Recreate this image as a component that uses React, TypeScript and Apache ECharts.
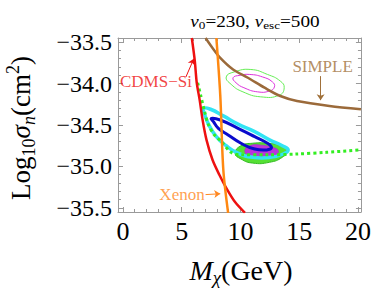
import React, { useEffect, useRef } from "react";
import * as echarts from "echarts";

const X_MIN = -0.42, X_MAX = 20.25, Y_MIN = -35.55, Y_MAX = -33.45;
const X_TICKS = [0, 5, 10, 15, 20];
const X_MINOR = [1, 2, 3, 4, 6, 7, 8, 9, 11, 12, 13, 14, 16, 17, 18, 19];
const Y_TICKS = [-35.5, -35.0, -34.5, -34.0, -33.5];
const Y_MINOR = [-35.4, -35.3, -35.2, -35.1, -34.9, -34.8, -34.7, -34.6, -34.4, -34.3, -34.2, -34.1, -33.9, -33.8, -33.7, -33.6];

// limit curves
const cdmsSi = [[5.86, -33.45], [6.11, -33.72], [6.28, -33.99], [6.53, -34.2], [6.78, -34.44], [7.11, -34.68], [7.62, -34.92], [8.2, -35.1], [8.87, -35.28], [9.54, -35.43], [10.38, -35.56]];
const xenon = [[7.95, -33.45], [8.28, -34.14], [8.54, -35.04], [8.95, -35.56]];
const simple = [[7.03, -33.45], [7.62, -33.57], [8.28, -33.69], [9.37, -33.83], [10.63, -33.93], [12.05, -34.05], [13.39, -34.15], [14.81, -34.21], [17.57, -34.27], [20.25, -34.31]];
const greenDotted = [[6.36, -33.99], [6.61, -34.14], [6.95, -34.34], [7.28, -34.5], [7.78, -34.62], [8.37, -34.7], [9.2, -34.83], [10.04, -34.86], [12.3, -34.86], [14.81, -34.85], [17.32, -34.83], [20.25, -34.8]];

// contours
const upperGreen = [[8.79, -33.92], [9.46, -33.86], [10.88, -33.83], [12.3, -33.89], [13.39, -33.97], [13.72, -34.05], [13.31, -34.14], [11.72, -34.16], [10.21, -34.1], [9.21, -34.01]];
const upperMagenta = [[9.37, -33.93], [9.96, -33.9], [10.79, -33.89], [11.88, -33.92], [12.72, -33.98], [12.89, -34.04], [12.47, -34.09], [11.46, -34.1], [10.29, -34.05], [9.62, -33.99]];
const lowerCyan = [[6.86, -34.3], [7.45, -34.31], [8.54, -34.39], [9.79, -34.49], [11.21, -34.58], [12.47, -34.68], [13.56, -34.75], [14.06, -34.8], [13.64, -34.85], [12.55, -34.89], [11.05, -34.89], [9.79, -34.84], [8.79, -34.75], [7.95, -34.64], [7.28, -34.49], [6.95, -34.37]];
const lowerBlue = [[7.53, -34.42], [8.28, -34.44], [9.79, -34.54], [11.21, -34.64], [12.3, -34.72], [12.64, -34.77], [12.3, -34.8], [11.21, -34.79], [10.04, -34.72], [8.95, -34.62], [8.12, -34.54], [7.7, -34.46]];
const lowerGreen = [[9.54, -34.84], [10.04, -34.75], [11.05, -34.72], [12.3, -34.72], [13.39, -34.75], [13.97, -34.81], [13.56, -34.89], [12.47, -34.95], [11.05, -34.96], [10.04, -34.91]];
const lowerMagenta = [[10.38, -34.8], [10.79, -34.75], [11.63, -34.74], [12.72, -34.77], [13.22, -34.81], [12.97, -34.87], [12.13, -34.9], [11.05, -34.9], [10.54, -34.86]];

// annotations
const labels = [
  { text: "CDMS\u2212Si", pos: [-0.25, -33.98], color: "#ee1111", align: "left" },
  { text: "SIMPLE", pos: [16.99, -33.79], color: "#a0703a", align: "center" },
  { text: "Xenon", pos: [3.1, -35.34], color: "#ff8822", align: "left" },
];
const arrows = [
  { from: [5.36, -33.92], to: [6.03, -33.7], color: "#ee1111" },
  { from: [16.82, -33.91], to: [16.82, -34.2], color: "#a0703a" },
  { from: [7.03, -35.34], to: [8.28, -35.33], color: "#ff8822" },
];

const SERIF = "'Liberation Serif', 'Times New Roman', serif";
const FRAME = "#9a9a9a";

const poly = (pts: number[][], style: any, z: number) => ({
  type: "custom",
  data: pts,
  clip: true,
  silent: true,
  z,
  renderItem: (params: any, api: any) =>
    params.dataIndex === 0
      ? { type: "polygon", shape: { points: pts.map((p) => api.coord(p)), smooth: 0.5 }, style }
      : null,
});

const line = (pts: number[][], color: string, width: number, z: number, type: any = "solid") => ({
  type: "line",
  data: pts,
  smooth: 0.3,
  showSymbol: false,
  symbol: "none",
  clip: true,
  silent: true,
  z,
  lineStyle: { color, width, type },
});

export default function App() {
  const ref = useRef<HTMLDivElement>(null);
  useEffect(() => {
    const chart = echarts.init(ref.current!, null, { renderer: "svg" });
    const xAx = (pos: string, ticks: number[], len: number, showLabel: boolean, showLine: boolean) => ({
      type: "value", min: X_MIN, max: X_MAX, position: pos,
      axisLine: { show: showLine, onZero: false, lineStyle: { color: FRAME, width: 1 } },
      axisTick: { show: true, inside: true, length: len, customValues: ticks, lineStyle: { color: FRAME } },
      axisLabel: showLabel
        ? { show: true, customValues: ticks, fontSize: 26, fontFamily: SERIF, color: "#000", margin: 6 }
        : { show: false },
      splitLine: { show: false },
    });
    const yAx = (pos: string, ticks: number[], len: number, showLabel: boolean, showLine: boolean) => ({
      type: "value", min: Y_MIN, max: Y_MAX, position: pos,
      axisLine: { show: showLine, onZero: false, lineStyle: { color: FRAME, width: 1 } },
      axisTick: { show: true, inside: true, length: len, customValues: ticks, lineStyle: { color: FRAME } },
      axisLabel: showLabel
        ? {
            show: true, customValues: ticks, fontSize: 24, fontFamily: SERIF, color: "#000", margin: 6,
            formatter: (v: number) => (v < 0 ? "\u2212" : "") + Math.abs(v).toFixed(1),
          }
        : { show: false },
      splitLine: { show: false },
    });
    chart.setOption({
      animation: false,
      grid: { left: 118, top: 38, width: 247, height: 174 },
      xAxis: [
        xAx("bottom", X_TICKS, 5, true, true),
        xAx("bottom", X_MINOR, 3, false, false),
        xAx("top", X_TICKS, 5, false, true),
        xAx("top", X_MINOR, 3, false, false),
      ],
      yAxis: [
        yAx("left", Y_TICKS, 5, true, true),
        yAx("left", Y_MINOR, 3, false, false),
        yAx("right", Y_TICKS, 5, false, true),
        yAx("right", Y_MINOR, 3, false, false),
      ],
      series: [
        poly(upperGreen, { fill: "none", stroke: "#66ee55", lineWidth: 1 }, 2),
        poly(upperMagenta, { fill: "none", stroke: "#dd33dd", lineWidth: 1 }, 2),
        poly(lowerGreen, { fill: "#55e033", stroke: "#33bb22", lineWidth: 1 }, 2),
        poly(lowerMagenta, { fill: "#bb33dd", stroke: "#aa22cc", lineWidth: 0.5 }, 3),
        poly(lowerCyan, { fill: "none", stroke: "#33e4f4", lineWidth: 3.5 }, 4),
        poly(lowerBlue, { fill: "none", stroke: "#0a0acc", lineWidth: 3 }, 5),
        line(greenDotted, "#33ee22", 3, 6, [3, 3]),
        line(cdmsSi, "#ee1111", 2.5, 7),
        line(simple, "#9b6a3a", 2.5, 7),
        line(xenon, "#ff8811", 2.5, 8),
        {
          type: "scatter",
          symbolSize: 0,
          silent: true,
          z: 9,
          data: labels.map((l) => ({
            value: l.pos,
            label: {
              show: true, position: "inside", formatter: l.text, color: l.color, fontSize: 17,
              fontFamily: SERIF, align: l.align, verticalAlign: "middle",
            },
          })),
          markLine: {
            silent: true,
            symbol: ["none", "arrow"],
            symbolSize: 6,
            label: { show: false },
            data: arrows.map((a) => [
              { coord: a.from, lineStyle: { color: a.color, width: 1, type: "solid" } },
              { coord: a.to },
            ]),
          },
        },
      ],
      graphic: [
        {
          type: "text", x: 255, y: 22, scaleX: 1.2,
          style: {
            text: "{v|v}{s|0}{t|=230, }{v|v}{s|esc}{t|=500}",
            align: "center", verticalAlign: "middle",
            rich: {
              v: { fontSize: 16, fontStyle: "italic", fontFamily: SERIF, lineHeight: 18 },
              t: { fontSize: 16, fontFamily: SERIF, lineHeight: 18 },
              s: { fontSize: 11, fontFamily: SERIF, verticalAlign: "bottom", lineHeight: 12 },
            },
          },
        },
        {
          type: "text", x: 241, y: 270,
          style: {
            text: "{m|M}{c|\u03c7}{t|(GeV)}",
            align: "center", verticalAlign: "middle",
            rich: {
              m: { fontSize: 28, fontStyle: "italic", fontFamily: SERIF, lineHeight: 34 },
              t: { fontSize: 28, fontFamily: SERIF, lineHeight: 34 },
              c: { fontSize: 19, fontStyle: "italic", fontFamily: SERIF, verticalAlign: "bottom", lineHeight: 24 },
            },
          },
        },
        {
          type: "text", x: 21, y: 128, rotation: Math.PI / 2,
          style: {
            text: "{a|Log}{s|10}{i|\u03c3}{si|n}{a|(cm}{p|2}{a|)}",
            align: "center", verticalAlign: "middle",
            rich: {
              a: { fontSize: 27, fontFamily: SERIF, lineHeight: 34 },
              i: { fontSize: 27, fontStyle: "italic", fontFamily: SERIF, lineHeight: 34 },
              s: { fontSize: 18, fontFamily: SERIF, verticalAlign: "bottom", lineHeight: 22 },
              si: { fontSize: 18, fontStyle: "italic", fontFamily: SERIF, verticalAlign: "bottom", lineHeight: 22 },
              p: { fontSize: 18, fontFamily: SERIF, verticalAlign: "top", lineHeight: 22 },
            },
          },
        },
      ],
    });
    return () => chart.dispose();
  }, []);
  return <div ref={ref} style={{ width: 374, height: 290, position: "absolute", left: 0, top: 0 }} />;
}
